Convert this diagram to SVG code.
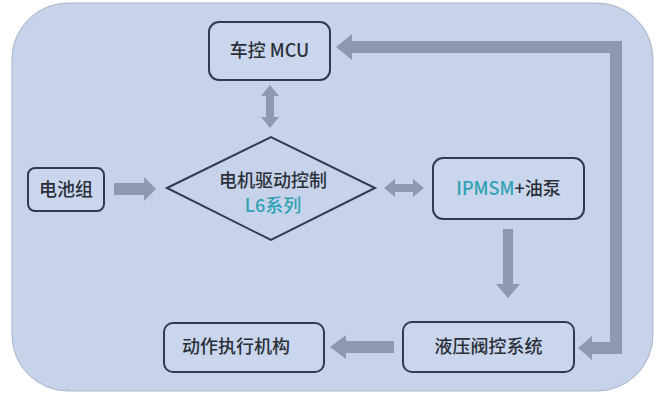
<svg xmlns="http://www.w3.org/2000/svg" width="659" height="394" viewBox="0 0 659 394">
<style>
.box{fill:#c9d6ed;stroke:#2f3b50;stroke-width:2}
.t{font-family:"Noto Sans CJK SC","Noto Sans",sans-serif;font-size:18px;fill:#2b2f38;text-anchor:middle;font-weight:500}
.teal{fill:#2fa2b4}
.arr{fill:#8c99b1}
</style>
<rect x="0" y="0" width="659" height="394" fill="#ffffff"/>
<rect x="12" y="3" width="641" height="388" rx="56" fill="#c6d3eb" stroke="#a9b4c8" stroke-width="1"/>
<g id="connectors" class="arr">
<polygon points="270,85 279,96 274,96 274,117 279,117 270,128 261,117 266,117 266,96 261,96"/>
<polygon points="114,183 144,183 144,177 156,189 144,201 144,195 114,195"/>
<polygon points="384,188 395,179 395,184 413,184 413,179 424,188 413,197 413,192 395,192 395,197"/>
<polygon points="503,229 513,229 513,284 520,284 508,298 496,284 503,284"/>
<polygon points="394,341 346,341 346,335 330,347 346,359 346,353 394,353"/>
<polygon points="592,342 610,342 610,53 352,53 352,60 336,47 352,34 352,41 622,41 622,354 592,354 592,360 578,348 592,336"/>
</g>
<g id="mcu">
<rect class="box" x="209" y="22" width="121" height="58" rx="10"/>
<text class="t" x="269.5" y="57">车控 MCU</text>
</g>
<g id="driver">
<polygon points="167,188 271,137 375,188 271,240" fill="#c6d3eb" stroke="#2f3b50" stroke-width="2"/>
<text class="t" x="273" y="187">电机驱动控制</text>
<text class="t teal" x="273" y="212">L6系列</text>
</g>
<g id="battery">
<rect class="box" x="28" y="168" width="76" height="43" rx="7"/>
<text class="t" x="66" y="196">电池组</text>
</g>
<g id="motor">
<rect class="box" x="433" y="158" width="151" height="61" rx="10"/>
<text class="t" x="508.5" y="195"><tspan class="teal">IPMSM</tspan>+油泵</text>
</g>
<g id="hydraulic">
<rect class="box" x="403" y="322" width="171" height="50" rx="9"/>
<text class="t" x="488.5" y="353">液压阀控系统</text>
</g>
<g id="actuator">
<rect class="box" x="164" y="323" width="160" height="49" rx="9"/>
<text class="t" x="236" y="353">动作执行机构</text>
</g>
</svg>
